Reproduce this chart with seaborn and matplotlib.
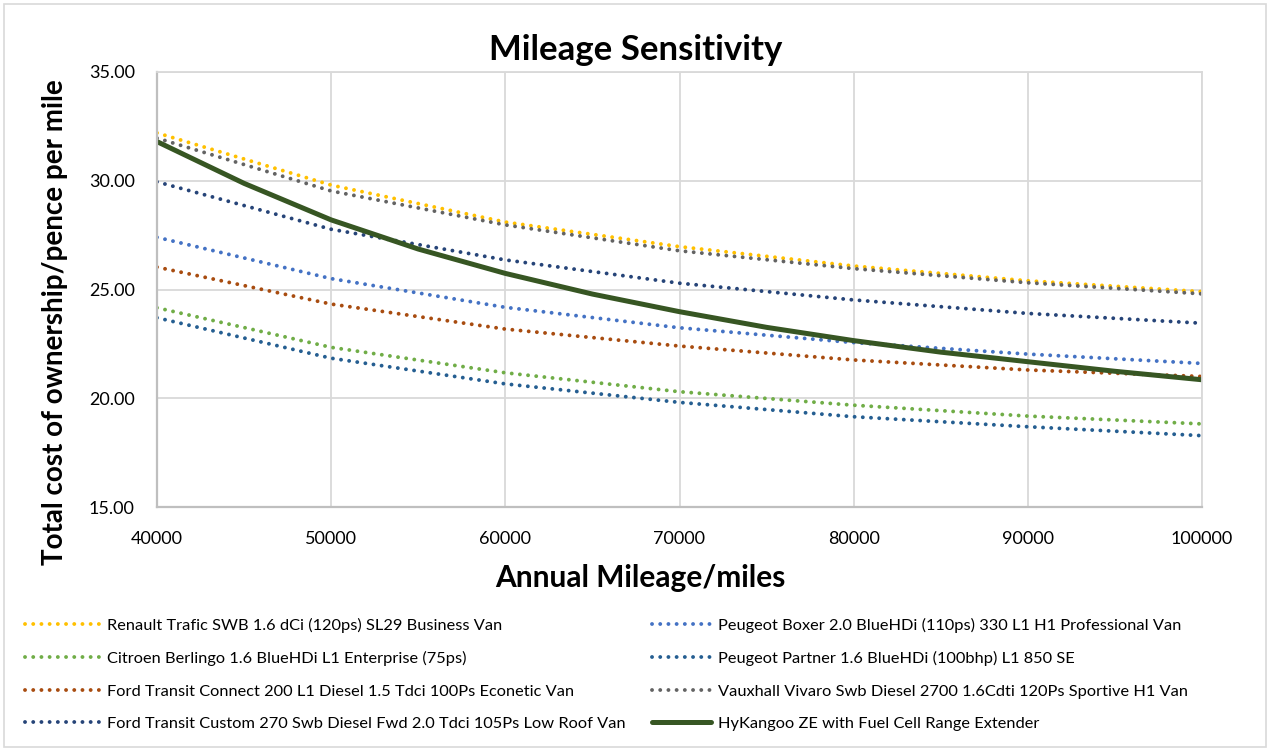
import numpy as np
import pandas as pd
import matplotlib
matplotlib.use("Agg")
import matplotlib.pyplot as plt
import seaborn as sns
from matplotlib.patches import Rectangle
from matplotlib.ticker import MultipleLocator, FormatStrFormatter

sns.set_theme(style="white")
plt.rcParams["font.family"] = ["Lato", "DejaVu Sans"]
plt.rcParams["text.color"] = "black"
plt.rcParams["xtick.color"] = "black"
plt.rcParams["ytick.color"] = "black"

# annual mileage (x) and total cost of ownership, pence per mile
mileage = [40000, 50000, 60000, 70000, 80000, 90000, 100000]
renault = [32.2, 29.8, 28.1, 26.97, 26.08, 25.4, 24.9]
citroen = [24.16, 22.34, 21.17, 20.3, 19.68, 19.18, 18.82]
connect = [26.03, 24.33, 23.18, 22.4, 21.76, 21.3, 21.0]
custom = [29.95, 27.77, 26.36, 25.29, 24.52, 23.9, 23.45]
boxer = [27.4, 25.5, 24.18, 23.24, 22.56, 22.03, 21.6]
partner = [23.7, 21.84, 20.66, 19.81, 19.15, 18.69, 18.28]
vivaro = [31.96, 29.53, 27.97, 26.78, 25.96, 25.31, 24.8]

# the fuel cell van is read every 5000 miles (it bends the most)
hy_mileage = [40000, 45000, 50000, 55000, 60000, 65000, 70000,
              75000, 80000, 85000, 90000, 95000, 100000]
hykangoo = [31.8, 29.88, 28.2, 26.86, 25.74, 24.79, 23.98,
            23.26, 22.65, 22.12, 21.68, 21.24, 20.85]

names = [
    "Renault Trafic SWB 1.6 dCi (120ps) SL29 Business Van",
    "Citroen Berlingo 1.6 BlueHDi L1 Enterprise (75ps)",
    "Ford Transit Connect 200 L1 Diesel 1.5 Tdci 100Ps Econetic Van",
    "Ford Transit Custom 270 Swb Diesel Fwd 2.0 Tdci 105Ps Low Roof Van",
    "Peugeot Boxer 2.0 BlueHDi (110ps) 330 L1 H1 Professional Van",
    "Peugeot Partner 1.6 BlueHDi (100bhp) L1 850 SE",
    "Vauxhall Vivaro Swb Diesel 2700 1.6Cdti 120Ps Sportive H1 Van",
    "HyKangoo ZE with Fuel Cell Range Extender",
]
series = [renault, citroen, connect, custom, boxer, partner, vivaro, hykangoo]
colors = ["#FFC000", "#70AD47", "#A84C10", "#264478",
          "#4472C4", "#255E91", "#636363", "#375623"]

fig = plt.figure(figsize=(12.7, 7.51), dpi=100)
ax = fig.add_axes([157 / 1270, 1 - 507 / 751, 1045 / 1270, 435 / 751])

dotted = (0, (0.01, 2.1))
for name, vals, col in zip(names, series, colors):
    solid = name.startswith("HyKangoo")
    xs = hy_mileage if solid else mileage
    sns.lineplot(x=xs, y=vals, ax=ax, color=col, label=name,
                 linestyle="-" if solid else dotted,
                 lw=3.6 if solid else 2.8)
    ax.lines[-1].set_dash_capstyle("round")

ax.set_xlim(40000, 100000)
ax.set_ylim(15, 35)
ax.set_xticks(range(40000, 100001, 10000))
ax.yaxis.set_major_locator(MultipleLocator(5))
ax.yaxis.set_minor_locator(MultipleLocator(1))
ax.yaxis.set_major_formatter(FormatStrFormatter("%.2f"))
ax.grid(True, which="major", color="#D9D9D9", lw=1.3)
ax.set_axisbelow(True)
ax.tick_params(axis="y", which="both", direction="in", length=5,
               color="#BFBFBF", labelsize=13, pad=16)
ax.tick_params(axis="x", length=0, labelsize=13, pad=17)
for s in ["top", "right"]:
    ax.spines[s].set_color("#D9D9D9")
    ax.spines[s].set_linewidth(1.3)
for s in ["left", "bottom"]:
    ax.spines[s].set_color("#BFBFBF")
    ax.spines[s].set_linewidth(1.6)
ax.set_xlabel("")
ax.set_ylabel("")

fig.text(636 / 1270, 1 - 50 / 751, "Mileage Sensitivity", ha="center",
         va="center", fontsize=25, fontweight="bold")
fig.text(640 / 1270, 1 - 578 / 751, "Annual Mileage/miles", ha="center",
         va="center", fontsize=21.5, fontweight="bold")
fig.text(55 / 1270, 1 - 322 / 751, "Total cost of ownership/pence per mile",
         ha="center", va="center", rotation=90, fontsize=20, fontweight="bold")

handles, labels = ax.get_legend_handles_labels()
ax.get_legend().remove()
leg_kw = dict(frameon=False, fontsize=11.8, handletextpad=0.4,
              labelspacing=1.1, borderpad=0, borderaxespad=0,
              loc="upper left", labelcolor="black")
fig.legend(handles[:4], labels[:4], bbox_to_anchor=(25 / 1270, 1 - 618 / 751),
           handlelength=4.6, **leg_kw)
fig.legend(handles[4:], labels[4:], bbox_to_anchor=(652 / 1270, 1 - 618 / 751),
           handlelength=3.6, **leg_kw)

fig.patches.append(Rectangle((4 / 1270, 4 / 751), 1262 / 1270, 743 / 751,
                             transform=fig.transFigure, fill=False,
                             edgecolor="#D9D9D9", lw=1.2))

fig.savefig("out.png", dpi=100)
